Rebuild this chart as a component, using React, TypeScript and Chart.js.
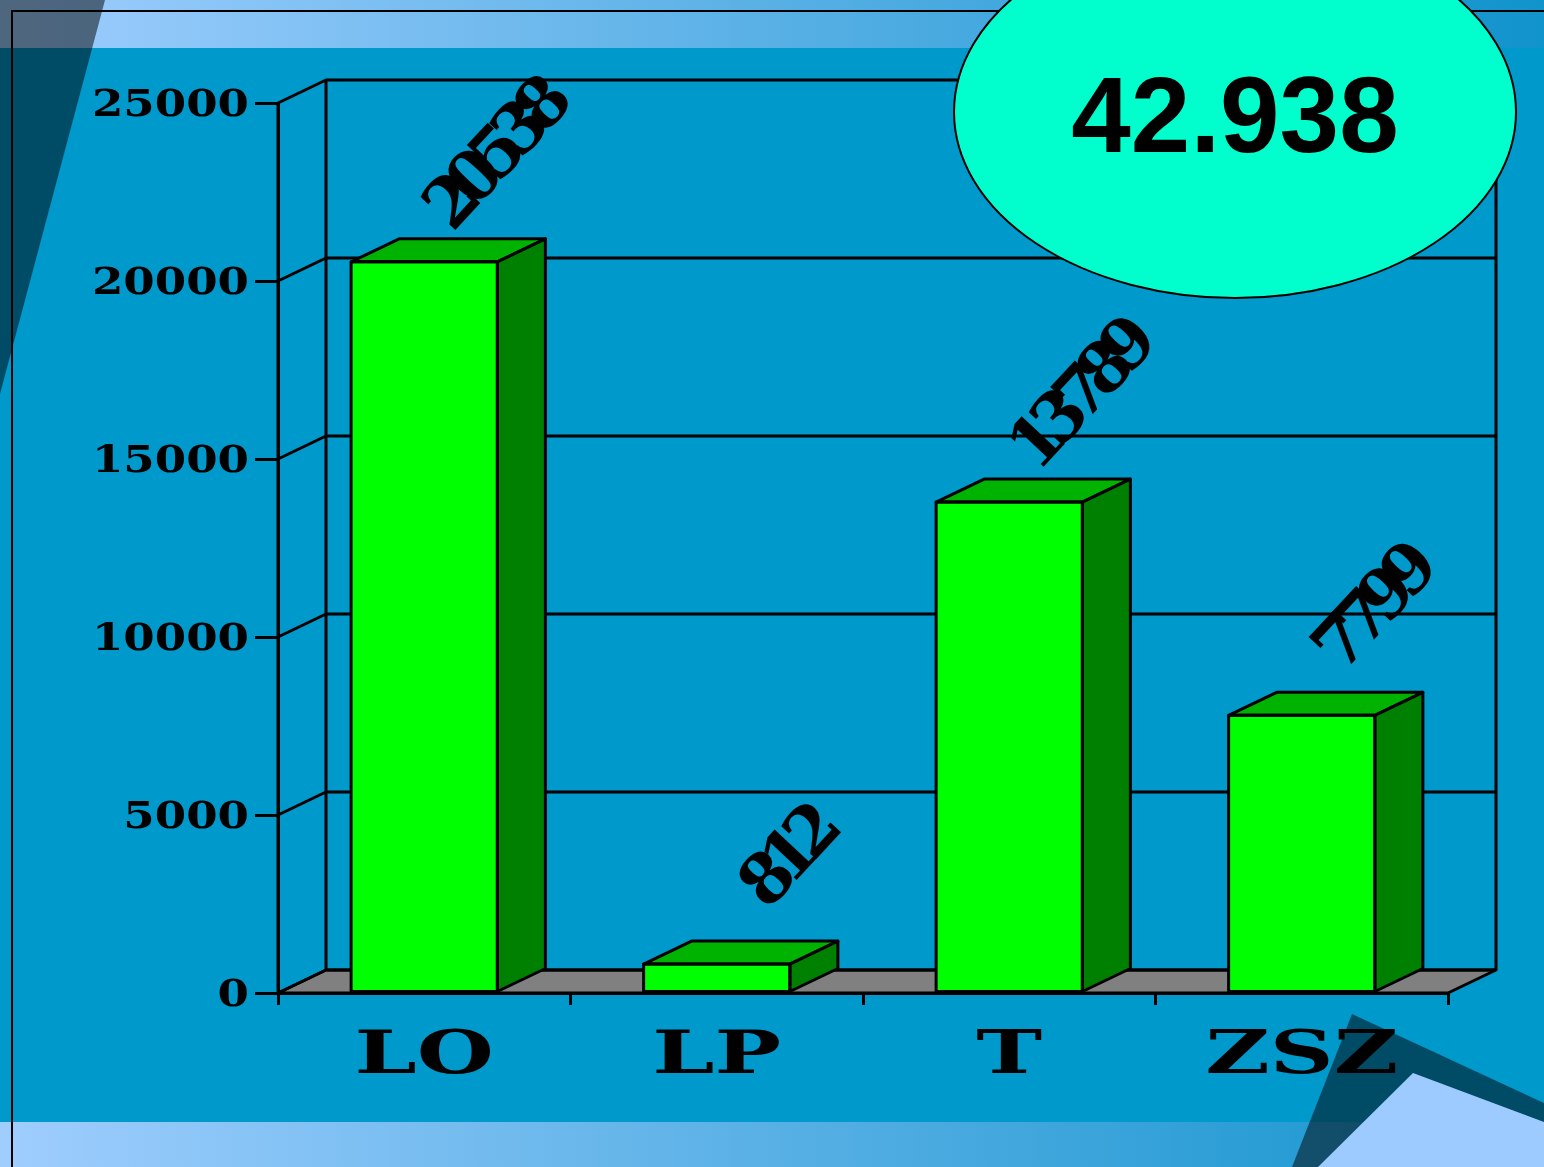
import React, { useEffect, useRef } from 'react';
import { Chart, registerables } from 'chart.js';

Chart.register(...registerables);

// ---- data ----
const categories = ['LO', 'LP', 'T', 'ZSZ'];
const values = [20538, 812, 13789, 7799];
const totalLabel = '42.938';
const yMin = 0;
const yMax = 25000;
const yStep = 5000;

// ---- 3D depth offset ----
const DX = 48;
const DY = -23;

const W = 1544;
const H = 1167;
const LW = 3;

const scenePlugin = {
  id: 'scene3d',
  beforeDraw(chart: any) {
    const ctx = chart.ctx;
    ctx.save();
    ctx.fillStyle = '#0099cc';
    ctx.fillRect(0, 0, W, H);
    const g = ctx.createLinearGradient(0, 0, W, 0);
    g.addColorStop(0, '#9fcdfe');
    g.addColorStop(1, '#1193cc');
    ctx.fillStyle = g;
    ctx.fillRect(0, 0, W, 48);
    ctx.fillRect(0, 1122, W, H - 1122);
    // top-left dark wedge
    ctx.fillStyle = 'rgba(0,0,0,0.5)';
    ctx.beginPath();
    ctx.moveTo(0, 0);
    ctx.lineTo(105, 0);
    ctx.lineTo(0, 394);
    ctx.closePath();
    ctx.fill();
    // bottom-right shapes
    ctx.beginPath();
    ctx.moveTo(1352, 1014);
    ctx.lineTo(W, 1103);
    ctx.lineTo(W, H);
    ctx.lineTo(1292, H);
    ctx.closePath();
    ctx.fill();
    ctx.fillStyle = '#9ecbff';
    ctx.beginPath();
    ctx.moveTo(1413, 1073);
    ctx.lineTo(W, 1122);
    ctx.lineTo(W, H);
    ctx.lineTo(1318, H);
    ctx.closePath();
    ctx.fill();
    // frame lines
    ctx.strokeStyle = '#000';
    ctx.lineWidth = 2;
    ctx.beginPath();
    ctx.moveTo(12, H);
    ctx.lineTo(12, 11);
    ctx.lineTo(W, 11);
    ctx.stroke();
    ctx.restore();
  },
  beforeDatasetsDraw(chart: any) {
    const ctx = chart.ctx;
    const { left, right, top, bottom } = chart.chartArea;
    const y = chart.scales.y;
    ctx.save();
    ctx.strokeStyle = '#000';
    ctx.lineWidth = LW;
    ctx.lineJoin = 'round';
    // floor
    ctx.fillStyle = '#808080';
    ctx.beginPath();
    ctx.moveTo(left, bottom);
    ctx.lineTo(right, bottom);
    ctx.lineTo(right + DX, bottom + DY);
    ctx.lineTo(left + DX, bottom + DY);
    ctx.closePath();
    ctx.fill();
    ctx.stroke();
    // grid lines on back wall + side wall
    y.ticks.forEach((t: any) => {
      const py = y.getPixelForValue(t.value);
      ctx.beginPath();
      ctx.moveTo(left, py);
      ctx.lineTo(left + DX, py + DY);
      ctx.lineTo(right + DX, py + DY);
      ctx.stroke();
    });
    // wall verticals
    ctx.beginPath();
    ctx.moveTo(left + DX, top + DY);
    ctx.lineTo(left + DX, bottom + DY);
    ctx.moveTo(right + DX, top + DY);
    ctx.lineTo(right + DX, bottom + DY);
    ctx.moveTo(left, top);
    ctx.lineTo(left, bottom);
    ctx.stroke();
    ctx.restore();
  },
  afterDatasetsDraw(chart: any) {
    const ctx = chart.ctx;
    const meta = chart.getDatasetMeta(0);
    ctx.save();
    ctx.strokeStyle = '#000';
    ctx.lineWidth = LW;
    ctx.lineJoin = 'round';
    meta.data.forEach((el: any) => {
      const l = el.x - el.width / 2;
      const r = el.x + el.width / 2;
      const t = el.y;
      const b = el.base;
      // top face
      ctx.fillStyle = '#00b300';
      ctx.beginPath();
      ctx.moveTo(l, t);
      ctx.lineTo(r, t);
      ctx.lineTo(r + DX, t + DY);
      ctx.lineTo(l + DX, t + DY);
      ctx.closePath();
      ctx.fill();
      ctx.stroke();
      // side face
      ctx.fillStyle = '#008000';
      ctx.beginPath();
      ctx.moveTo(r, t);
      ctx.lineTo(r + DX, t + DY);
      ctx.lineTo(r + DX, b + DY);
      ctx.lineTo(r, b);
      ctx.closePath();
      ctx.fill();
      ctx.stroke();
      // front outline
      ctx.strokeRect(l, t, r - l, b - t);
    });
    ctx.restore();
  },
  afterDraw(chart: any) {
    const ctx = chart.ctx;
    const { left, bottom } = chart.chartArea;
    const y = chart.scales.y;
    const x = chart.scales.x;
    ctx.save();
    ctx.fillStyle = '#000';
    // y tick labels
    ctx.font = 'bold 37px "DejaVu Serif"';
    ctx.textAlign = 'right';
    ctx.textBaseline = 'alphabetic';
    y.ticks.forEach((t: any) => {
      const py = y.getPixelForValue(t.value);
      ctx.save();
      ctx.translate(left - 29, py + 13);
      ctx.scale(1.22, 1);
      ctx.fillText(String(t.value), 0, 0);
      ctx.restore();
    });
    // x category labels
    ctx.font = 'bold 59px "DejaVu Serif"';
    ctx.textAlign = 'center';
    categories.forEach((c, i) => {
      const px = x.getPixelForValue(i);
      ctx.save();
      ctx.translate(px, bottom + 80);
      ctx.scale(1.5, 1);
      ctx.fillText(c, 0, 0);
      ctx.restore();
    });
    // rotated data labels
    const meta = chart.getDatasetMeta(0);
    ctx.font = 'bold 68px "DejaVu Serif"';
    (ctx as any).letterSpacing = '-14px';
    ctx.textAlign = 'center';
    ctx.textBaseline = 'middle';
    meta.data.forEach((el: any, i: number) => {
      const cx = el.x + DX / 2 + 48;
      const cy = el.y + DY / 2 - 90;
      ctx.save();
      ctx.translate(cx, cy);
      ctx.rotate((-47 * Math.PI) / 180);
      ctx.fillText(String(values[i]), 0, 0);
      ctx.restore();
    });
    (ctx as any).letterSpacing = '0px';
    // total ellipse
    ctx.beginPath();
    ctx.ellipse(1235, 112, 281, 186, 0, 0, Math.PI * 2);
    ctx.fillStyle = '#00ffcc';
    ctx.fill();
    ctx.strokeStyle = '#000';
    ctx.lineWidth = 2;
    ctx.stroke();
    ctx.fillStyle = '#000';
    ctx.font = 'bold 107px "Liberation Sans"';
    ctx.textAlign = 'center';
    ctx.textBaseline = 'alphabetic';
    ctx.fillText(totalLabel, 1235, 152);
    ctx.restore();
  },
};

export default function App() {
  const ref = useRef<HTMLCanvasElement | null>(null);
  useEffect(() => {
    const canvas = ref.current;
    if (!canvas) return;
    const chart = new Chart(canvas, {
      type: 'bar',
      data: {
        labels: categories,
        datasets: [
          {
            data: values,
            backgroundColor: '#00ff00',
            borderColor: '#000',
            borderWidth: 0,
            barPercentage: 0.5,
            categoryPercentage: 1,
          },
        ],
      },
      options: {
        responsive: false,
        animation: false,
        devicePixelRatio: 1,
        layout: { padding: { left: 0, top: 103, right: 96, bottom: 0 } },
        plugins: { legend: { display: false }, tooltip: { enabled: false }, title: { display: false } },
        scales: {
          y: {
            min: yMin,
            max: yMax,
            ticks: { stepSize: yStep, display: false },
            grid: { drawOnChartArea: false, drawTicks: true, tickLength: 23, color: '#000', lineWidth: LW },
            border: { display: true, color: '#000', width: LW },
            afterFit: (s: any) => {
              s.width = 278;
            },
          },
          x: {
            ticks: { display: false },
            grid: { offset: true, drawOnChartArea: false, drawTicks: true, tickLength: 12, color: '#000', lineWidth: LW },
            border: { display: true, color: '#000', width: LW },
            afterFit: (s: any) => {
              s.height = 174;
            },
          },
        },
      },
      plugins: [scenePlugin],
    });
    return () => chart.destroy();
  }, []);
  return (
    <div style={{ position: 'absolute', left: 0, top: 0, width: W, height: H }}>
      <canvas ref={ref} width={W} height={H} style={{ display: 'block', width: W, height: H }} />
    </div>
  );
}
